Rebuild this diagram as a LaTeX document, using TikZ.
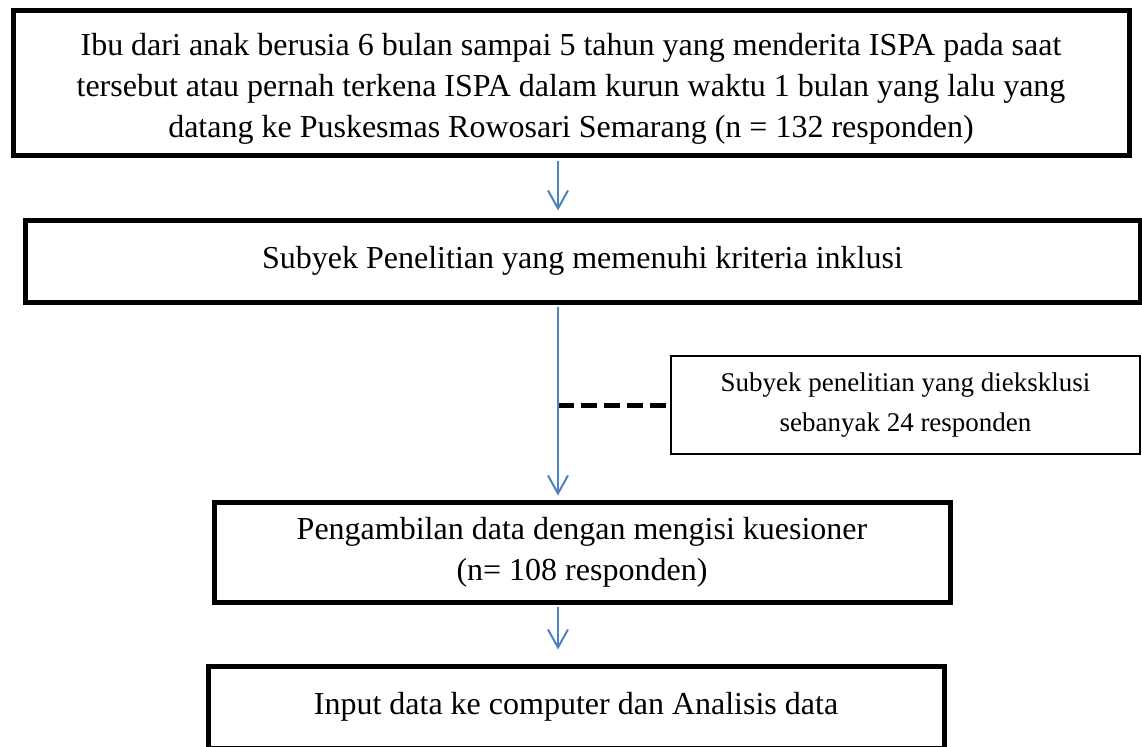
\documentclass[tikz,border=0pt]{standalone}
\usepackage{fontspec}
\setmainfont{Liberation Serif}
\usetikzlibrary{arrows.meta}
\definecolor{alur}{RGB}{79,129,189}

\begin{document}
\begin{tikzpicture}[x=0.5pt,y=-0.5pt,
	kotak/.style={draw,line width=2.5pt,align=center,inner sep=0pt,
		font=\fontsize{16}{20.5}\selectfont},
	panah/.style={draw=alur,line width=1pt,-{Straight Barb[length=9pt,width=10pt]}}]
	\useasboundingbox (0,0) rectangle (1142,746);

	\node[kotak,minimum width=558pt,minimum height=72.5pt] (populasi)
	at (571,83) {\rule{0pt}{17pt}Ibu dari anak berusia 6 bulan sampai 5 tahun yang menderita ISPA pada saat\\tersebut atau pernah terkena ISPA dalam kurun waktu 1 bulan yang lalu yang\\datang ke Puskesmas Rowosari Semarang (n = 132 responden)};
	\node[kotak,minimum width=557.5pt,minimum height=41pt] (inklusi)
	at (582.5,261) {Subyek Penelitian yang memenuhi kriteria inklusi};
	\node[kotak,line width=0.75pt,font=\fontsize{13.5}{20}\selectfont,
		minimum width=234.5pt,minimum height=49pt] (eksklusi)
	at (905.5,405) {Subyek penelitian yang dieksklusi\\sebanyak 24 responden};
	\node[kotak,minimum width=368pt,minimum height=50pt] (kuesioner)
	at (582,552) {Pengambilan data dengan mengisi kuesioner\\(n= 108 responden)};
	\node[kotak,minimum width=368pt,minimum height=41pt] (analisis)
	at (576,707) {Input data ke computer dan Analisis data};

	\coordinate (garis) at (558,0);

	\draw[line width=2.5pt,dash pattern=on 8pt off 3.5pt]
	(eksklusi.west -| garis) -- (eksklusi.west);

	\draw[panah,shorten <=1.25pt,shorten >=3.5pt] (populasi.south -| garis) -- (inklusi.north -| garis);
	\draw[panah,shorten <=1.25pt,shorten >=2pt] (inklusi.south -| garis) -- (kuesioner.north -| garis);
	\draw[panah,shorten <=1.25pt,shorten >=7pt] (kuesioner.south -| garis) -- (analisis.north -| garis);
\end{tikzpicture}
\end{document}
